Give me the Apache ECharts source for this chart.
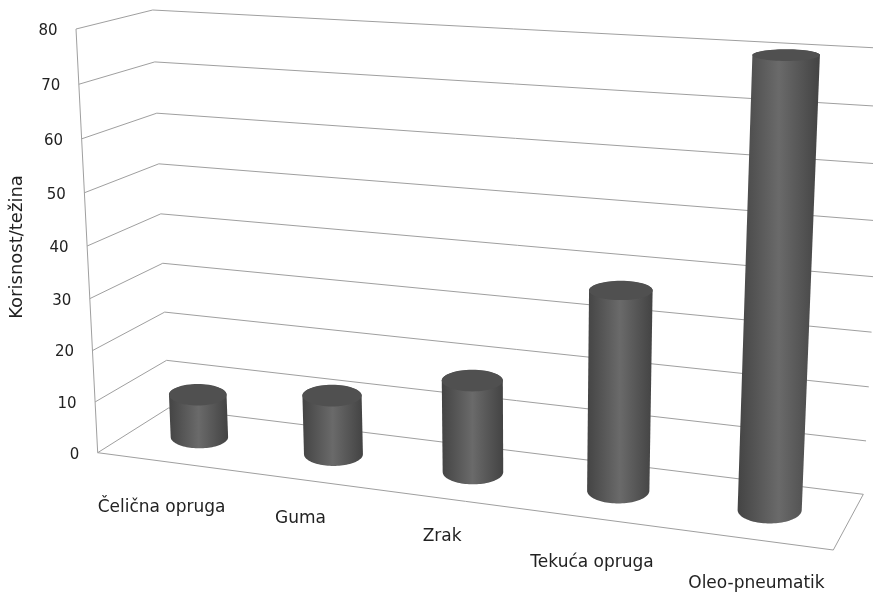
<!DOCTYPE html>
<html><head><meta charset="utf-8">
<style>html,body{margin:0;padding:0;background:#fff}#c{width:873px;height:594px}</style>
<script src="https://cdn.jsdelivr.net/npm/echarts@6/dist/echarts.min.js"></script>
</head><body><div id="c"></div>
<script>
const categories = ['Čelična opruga','Guma','Zrak','Tekuća opruga','Oleo-pneumatik'];
const values = [8.5, 11.5, 17.5, 37, 80];
const yTicks = [0,10,20,30,40,50,60,70,80];
const axisTitle = 'Korisnost/težina';

// projection of the chart box: corners [front-left, front-right, back-right, back-left]
const floorQuad = [[97.7,452.7],[833.3,550],[863.3,494.3],[168.5,408]];
const roofQuad  = [[76,29],[856,73],[886,48.4],[152.7,10]];
const bend = 0.05;
// hand placement of the slanted category labels relative to the front floor edge
const labelNudge = [[-3,46],[-2,39],[-4,38],[-4,44],[4,44]];
function homography(q){
  const [p0,p1,p2,p3]=q;
  const sx=p0[0]-p1[0]+p2[0]-p3[0], sy=p0[1]-p1[1]+p2[1]-p3[1];
  const dx1=p1[0]-p2[0], dx2=p3[0]-p2[0], dy1=p1[1]-p2[1], dy2=p3[1]-p2[1];
  const den=dx1*dy2-dx2*dy1;
  const g=(sx*dy2-dx2*sy)/den, h=(dx1*sy-sx*dy1)/den;
  const a=p1[0]-p0[0]+g*p1[0], b=p3[0]-p0[0]+h*p3[0], c=p0[0];
  const d=p1[1]-p0[1]+g*p1[1], e=p3[1]-p0[1]+h*p3[1], f=p0[1];
  return (u,v)=>{const w=g*u+h*v+1;return [(a*u+b*v+c)/w,(d*u+e*v+f)/w];};
}
const floorH=homography(floorQuad), roofH=homography(roofQuad);
function project(u,z,t){
  const a=floorH(u,z), b=roofH(u,z), f=t/(1+bend*(1-t));
  return [a[0]+(b[0]-a[0])*f, a[1]+(b[1]-a[1])*f];
}
function norm(api,params,idx,val){
  const p=api.coord([idx,val]), s=params.coordSys;
  return {u:(p[0]-s.x)/s.width, t:(s.y+s.height-p[1])/s.height};
}
const lineStyle={stroke:'#9f9f9f',lineWidth:1,fill:null};
function poly(points,style){return {type:'polyline',shape:{points},style};}

function renderWall(params,api){
  const tick=api.value(1), n=norm(api,params,0,tick), t=n.t;
  const fl=project(0,0,t), bl=project(0,1,t), br=project(1,1,t);
  const children=[poly([fl,bl,br],lineStyle)];
  children.push({type:'text',style:{text:String(tick),x:fl[0]-18.5,y:fl[1]+2,align:'right',verticalAlign:'middle',
    fill:'#222222',font:'15px "DejaVu Sans"'}});
  if(tick===0){
    children.push(poly([fl,project(0,0,1)],lineStyle));
    children.push(poly([fl,project(1,0,0),br],lineStyle));
  }
  return {type:'group',children};
}
const bodyFill={type:'linear',x:0,y:0,x2:1,y2:0,colorStops:[
  {offset:0,color:'#444444'},{offset:0.5,color:'#6a6a6a'},{offset:1,color:'#434343'}]};
function renderCyl(params,api){
  const idx=api.value(0), val=api.value(1);
  const n=norm(api,params,idx,val), u=n.u-0.002, zc=0.52;
  const du=0.0405, dz=0.25;
  const at=t=>{
    const c=project(u,zc,t);
    const rx0=Math.abs(project(u+du,zc,t)[0]-project(u-du,zc,t)[0])/2;
    const rx=rx0*0.714+9.7;
    const ry=Math.abs(project(u,zc+dz,t)[1]-project(u,zc-dz,t)[1])/2;
    return {c,rx,ry};
  };
  const top=at(n.t), bot=at(0);
  const body=[];
  body.push([top.c[0]-top.rx,top.c[1]]);
  for(let i=0;i<=48;i++){const a=Math.PI*(1-i/48);
    body.push([bot.c[0]+bot.rx*Math.cos(a),bot.c[1]+bot.ry*Math.sin(a)]);}
  body.push([top.c[0]+top.rx,top.c[1]]);
  for(let i=1;i<48;i++){const a=Math.PI*(i/48);
    body.push([top.c[0]+top.rx*Math.cos(a),top.c[1]-(top.ry-0.5)*Math.sin(a)]);}
  const lab=project(n.u,0,0), nudge=labelNudge[idx];
  return {type:'group',children:[
    {type:'polygon',shape:{points:body},style:{fill:bodyFill}},
    {type:'ellipse',shape:{cx:top.c[0],cy:top.c[1],rx:top.rx,ry:top.ry},style:{fill:'#505050'}},
    {type:'text',style:{text:categories[idx],x:lab[0]+nudge[0],y:lab[1]+nudge[1],align:'center',verticalAlign:'middle',
      fill:'#222222',font:'17px "DejaVu Sans"'}}
  ]};
}
const chart=echarts.init(document.getElementById('c'),null,{renderer:'canvas'});
chart.setOption({
  animation:false,
  backgroundColor:'#fff',
  grid:{left:97,right:10,top:47,bottom:147,containLabel:false},
  xAxis:{type:'category',data:categories,show:false},
  yAxis:{type:'value',min:0,max:80,interval:10,name:axisTitle,nameLocation:'middle',nameGap:73,nameRotate:90,
    nameTextStyle:{color:'#222222',fontSize:18,fontFamily:'DejaVu Sans'},
    axisLine:{show:false},axisTick:{show:false},axisLabel:{show:false},splitLine:{show:false}},
  series:[
    {type:'custom',silent:true,clip:false,z:1,renderItem:renderWall,data:yTicks.map(v=>[0,v])},
    {type:'custom',silent:true,clip:false,z:2,renderItem:renderCyl,data:values.map((v,i)=>[i,v])}
  ]
});
</script></body></html>
